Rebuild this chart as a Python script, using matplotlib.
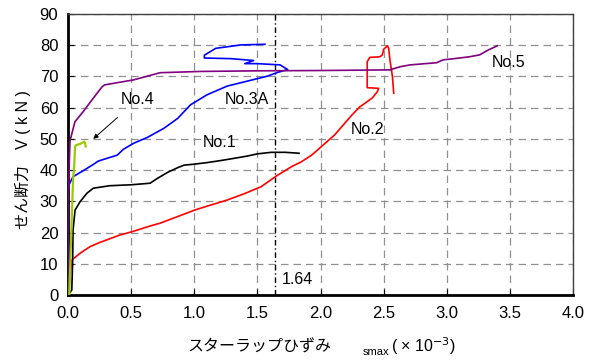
import matplotlib
matplotlib.use("Agg")
import matplotlib.pyplot as plt

plt.rcParams['font.family'] = ['Liberation Sans', 'Noto Sans CJK JP', 'DejaVu Sans']

# No.1 (black)
no1_x = [0.0, 0.03, 0.037, 0.04, 0.056, 0.096, 0.15, 0.2, 0.33, 0.5, 0.65, 0.71, 0.79, 0.87, 0.92, 1.0, 1.1, 1.2, 1.32, 1.42, 1.5, 1.61, 1.72, 1.83]
no1_y = [0.0, 1.6, 11.0, 20.8, 27.2, 29.9, 32.6, 34.2, 35.0, 35.3, 35.8, 37.4, 39.3, 40.8, 41.6, 41.9, 42.4, 43.0, 43.8, 44.5, 45.2, 45.7, 45.7, 45.4]

# No.2 (red)
no2_x = [0.0, 0.03, 0.1, 0.175, 0.25, 0.41, 0.51, 0.65, 0.73, 0.88, 1.01, 1.13, 1.26, 1.4, 1.53, 1.65, 1.77, 1.85, 1.93, 2.02, 2.11, 2.25, 2.31, 2.41, 2.45, 2.46, 2.37, 2.37, 2.37, 2.39, 2.47, 2.49, 2.50, 2.53, 2.54, 2.55, 2.57, 2.58]
no2_y = [0.0, 11.2, 13.5, 15.5, 16.8, 19.2, 20.3, 22.1, 23.0, 25.3, 27.3, 28.8, 30.4, 32.5, 34.7, 38.1, 41.1, 42.7, 44.8, 48.0, 51.2, 57.7, 60.2, 63.1, 65.1, 66.2, 66.4, 71.0, 74.7, 76.1, 76.3, 76.9, 78.7, 79.8, 79.0, 75.3, 69.9, 64.6]

# No.3A (blue)
no3_x = [0.0, 0.0, 0.04, 0.07, 0.12, 0.2, 0.24, 0.39, 0.44, 0.52, 0.63, 0.76, 0.87, 0.97, 1.1, 1.26, 1.42, 1.58, 1.66, 1.74, 1.68, 1.5, 1.40, 1.47, 1.29, 1.08, 1.08, 1.17, 1.37, 1.56]
no3_y = [0.0, 34.7, 37.9, 38.6, 39.8, 41.8, 42.9, 44.8, 46.7, 48.6, 50.5, 53.4, 56.6, 60.9, 64.1, 66.9, 68.5, 70.1, 71.3, 72.2, 73.7, 74.1, 74.1, 75.1, 75.7, 75.9, 76.8, 79.0, 80.1, 80.3]

# No.4 (yellow-green)
no4_x = [0.01, 0.03, 0.04, 0.05, 0.056, 0.064, 0.096, 0.13, 0.135, 0.14]
no4_y = [0.0, 25.0, 36.8, 42.0, 47.5, 48.0, 48.4, 49.1, 48.6, 47.6]

# No.5 (purple)
no5_x = [0.0, 0.0, 0.016, 0.055, 0.12, 0.19, 0.23, 0.27, 0.29, 0.52, 0.73, 1.05, 1.5, 2.0, 2.55, 2.63, 2.71, 2.92, 2.97, 3.08, 3.18, 3.26, 3.33, 3.40]
no5_y = [0.0, 30.0, 49.4, 55.5, 58.7, 62.5, 64.6, 66.7, 67.3, 68.9, 71.2, 71.6, 71.8, 71.9, 72.1, 73.1, 73.7, 74.4, 75.3, 75.8, 76.3, 76.9, 78.5, 79.8]

x_ticks = [0.0, 0.5, 1.0, 1.5, 2.0, 2.5, 3.0, 3.5, 4.0]
y_ticks = [0, 10, 20, 30, 40, 50, 60, 70, 80, 90]
ref_x = 1.64

fig = plt.figure(figsize=(5.93, 3.62), dpi=100)
ax = fig.add_axes([68/593, 1 - 295/362, (573-68)/593, (295-14)/362])

lw = 1.2
ax.plot(no2_x, no2_y, color='#ff0000', lw=lw, zorder=3)
ax.plot(no1_x, no1_y, color='black', lw=lw, zorder=3)
ax.plot(no3_x, no3_y, color='#0000ff', lw=lw, zorder=3)
ax.plot(no5_x, no5_y, color='#800080', lw=lw, zorder=4)
ax.plot(no4_x, no4_y, color='#99cc00', lw=1.6, zorder=5)

ax.axvline(ref_x, color='black', lw=1.0, linestyle=(0, (4, 2, 1, 2)), zorder=2)

ax.set_xlim(0, 4)
ax.set_ylim(0, 90)
ax.set_xticks(x_ticks)
ax.set_xticklabels([f"{v:.1f}" for v in x_ticks])
ax.set_yticks(y_ticks)
ax.grid(True, color='#909090', linestyle=(0, (6, 4)), lw=0.9)
ax.set_axisbelow(True)
ax.tick_params(direction='in', length=4, labelsize=12, color='black')
ax.tick_params(axis='x', pad=8)
ax.tick_params(axis='y', pad=7)

for s in ['left', 'bottom']:
    ax.spines[s].set_linewidth(2.0)
    ax.spines[s].set_color('black')
for s in ['top', 'right']:
    ax.spines[s].set_linewidth(1.0)
    ax.spines[s].set_color('#404040')

fs = 11.5
ax.text(ref_x + 0.05, 2.5, "1.64", fontsize=fs, ha='left', va='bottom')
ax.text(1.42, 62.5, "No.3A", fontsize=fs, ha='center', va='center')
ax.text(1.2, 48.7, "No.1", fontsize=fs, ha='center', va='center')
ax.text(2.37, 53.0, "No.2", fontsize=fs, ha='center', va='center')
ax.text(3.49, 74.4, "No.5", fontsize=fs, ha='center', va='center')
ax.annotate("No.4", xy=(0.2, 50.0), xytext=(0.55, 62.5), fontsize=fs,
            ha='center', va='center',
            arrowprops=dict(arrowstyle='-|>', color='black', lw=0.7,
                            mutation_scale=7, shrinkA=8, shrinkB=0))

fig.text(23/593, 1 - 160/362, "せん断力　V ( k N )", rotation=90, fontsize=11.5,
         ha='center', va='center')
fig.text(259/593, 1 - 347/362, "スターラップひずみ", fontsize=11.5, ha='center', va='center')
fig.text(376/593, 1 - 352/362, "smax", fontsize=8, ha='center', va='center')
fig.text(423/593, 1 - 346/362, r"( × 10$^{-3}$)", fontsize=11.5, ha='center', va='center')

fig.savefig("out.png", dpi=100)
